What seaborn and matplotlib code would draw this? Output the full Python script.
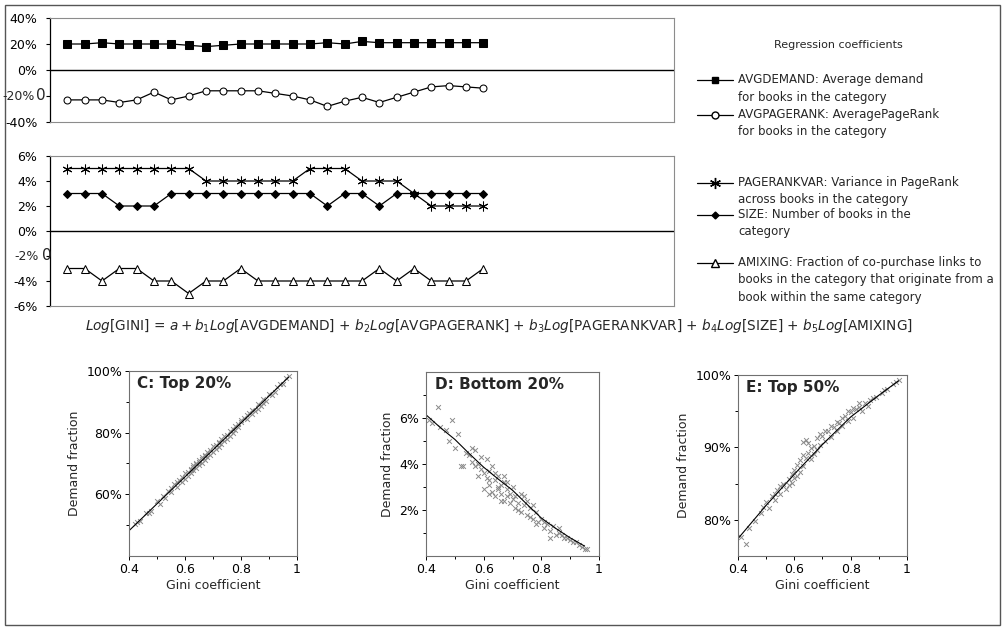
import numpy as np
import seaborn as sns
import matplotlib.pyplot as plt
from matplotlib.lines import Line2D
from matplotlib.patches import Rectangle
from matplotlib.ticker import FuncFormatter

# regression coefficients (%), 25 regressions
idx = list(range(1, 26))
avgdemand = [20, 20, 21, 20, 20, 20, 20, 19, 18, 19, 20, 20, 20, 20, 20, 21, 20, 22, 21, 21, 21, 21, 21, 21, 21]
avgpagerank = [-23, -23, -23, -25, -23, -17, -23, -20, -16, -16, -16, -16, -18, -20, -23, -28, -24, -21, -25, -21,
               -17, -13, -12, -13, -14]
pagerankvar = [5, 5, 5, 5, 5, 5, 5, 5, 4, 4, 4, 4, 4, 4, 5, 5, 5, 4, 4, 4, 3, 2, 2, 2, 2]
size = [3, 3, 3, 2, 2, 2, 3, 3, 3, 3, 3, 3, 3, 3, 3, 2, 3, 3, 2, 3, 3, 3, 3, 3, 3]
amixing = [-3, -3, -4, -3, -3, -4, -4, -5, -4, -4, -3, -4, -4, -4, -4, -4, -4, -4, -3, -4, -3, -4, -4, -4, -3]

# C: top 20% demand fraction vs gini
c_gini = [0.42, 0.44, 0.46, 0.48, 0.50, 0.51, 0.52, 0.53, 0.54, 0.55, 0.56, 0.57, 0.58, 0.59, 0.60, 0.60, 0.61,
          0.62, 0.62, 0.63, 0.63, 0.64, 0.64, 0.65, 0.65, 0.66, 0.66, 0.67, 0.67, 0.68, 0.68, 0.69, 0.70, 0.70,
          0.71, 0.72, 0.72, 0.73, 0.74, 0.74, 0.75, 0.76, 0.76, 0.77, 0.78, 0.78, 0.79, 0.80, 0.81, 0.82, 0.83,
          0.84, 0.85, 0.86, 0.87, 0.88, 0.89, 0.90, 0.92, 0.94, 0.95, 0.96, 0.97,
          0.43, 0.47, 0.55, 0.57, 0.59, 0.61, 0.62, 0.63, 0.64, 0.65, 0.66, 0.67, 0.69, 0.71, 0.72, 0.73,
          0.75, 0.77, 0.79, 0.80, 0.82, 0.84, 0.86, 0.88, 0.91, 0.93]
c_frac = [50.5, 51.2, 53.9, 54.6, 57.8, 57.0, 59.3, 58.9, 61.2, 60.6, 63.5, 62.4, 64.8, 64.0, 66.9, 65.1, 67.4,
          68.3, 66.8, 69.5, 67.9, 70.1, 68.6, 71.2, 69.4, 72.0, 70.3, 72.9, 71.1, 73.6, 72.0, 74.3, 75.6, 73.7,
          76.0, 77.1, 75.5, 77.8, 78.8, 77.2, 79.3, 80.6, 79.0, 81.2, 82.3, 80.8, 82.9, 83.6, 84.8, 84.3, 86.5,
          87.4, 87.0, 89.3, 88.7, 90.9, 90.4, 92.5, 93.1, 95.9, 95.7, 97.6, 98.3,
          51.0, 53.8, 62.1, 63.9, 65.7, 65.8, 67.9, 68.8, 69.7, 70.6, 71.4, 72.3, 72.9, 74.6, 76.7, 76.4,
          78.1, 79.9, 81.7, 84.0, 85.6, 86.0, 87.8, 89.6, 92.2, 94.9]
c_fit_x = [0.40, 0.97]
c_fit_y = [48.2, 98.0]

# D: bottom 20%
d_gini = [0.41, 0.42, 0.44, 0.45, 0.47, 0.48, 0.49, 0.50, 0.51, 0.52, 0.53, 0.54, 0.55, 0.56, 0.56, 0.57, 0.58,
          0.58, 0.59, 0.60, 0.60, 0.61, 0.61, 0.62, 0.62, 0.63, 0.63, 0.64, 0.64, 0.65, 0.65, 0.66, 0.66, 0.67,
          0.67, 0.67, 0.68, 0.68, 0.69, 0.70, 0.70, 0.71, 0.71, 0.72, 0.73, 0.73, 0.74, 0.75, 0.75, 0.76, 0.77,
          0.78, 0.79, 0.80, 0.81, 0.82, 0.83, 0.84, 0.85, 0.86, 0.87, 0.88, 0.90, 0.91, 0.93, 0.94, 0.95,
          0.57, 0.59, 0.62, 0.64, 0.66, 0.68, 0.69, 0.72, 0.74, 0.76, 0.77, 0.78, 0.81, 0.83, 0.86, 0.89,
          0.92, 0.96, 0.62, 0.65]
d_frac = [5.9, 5.8, 6.5, 5.6, 5.5, 5.0, 5.9, 4.7, 5.3, 3.9, 3.9, 4.5, 4.4, 4.7, 4.1, 4.6, 4.0,
          3.5, 3.8, 3.6, 2.9, 4.2, 3.4, 3.7, 3.1, 3.9, 2.8, 3.3, 2.6, 3.5, 2.9, 2.7, 3.1, 3.2,
          2.4, 3.5, 2.6, 2.9, 2.3, 3.0, 2.5, 2.6, 2.1, 2.3, 2.7, 1.9, 2.2, 2.4, 1.8, 2.1, 1.6,
          1.9, 1.5, 1.6, 1.2, 1.4, 1.1, 1.3, 0.9, 1.0, 0.9, 0.8, 0.7, 0.6, 0.5, 0.4, 0.3,
          3.9, 4.3, 2.7, 3.6, 2.4, 3.2, 2.7, 2.0, 2.6, 1.7, 2.2, 1.4, 1.5, 0.8, 1.2, 0.8,
          0.6, 0.3, 3.3, 3.0]
d_fit_x = [0.40, 0.45, 0.50, 0.55, 0.60, 0.65, 0.70, 0.75, 0.80, 0.85, 0.90, 0.95]
d_fit_y = [6.14, 5.58, 5.07, 4.45, 3.86, 3.35, 2.86, 2.25, 1.65, 1.20, 0.79, 0.43]

# E: top 50%
e_gini = [0.41, 0.43, 0.44, 0.46, 0.48, 0.49, 0.50, 0.51, 0.52, 0.53, 0.54, 0.55, 0.56, 0.57, 0.58, 0.59, 0.60,
          0.60, 0.61, 0.62, 0.62, 0.63, 0.63, 0.64, 0.64, 0.65, 0.66, 0.66, 0.67, 0.68, 0.68, 0.69, 0.70, 0.71,
          0.72, 0.73, 0.74, 0.75, 0.76, 0.77, 0.78, 0.79, 0.80, 0.81, 0.82, 0.83, 0.84, 0.85, 0.86, 0.87, 0.89,
          0.91, 0.93, 0.95, 0.96, 0.97,
          0.58, 0.59, 0.61, 0.63, 0.65, 0.67, 0.69, 0.71, 0.73, 0.75, 0.77, 0.79, 0.81, 0.83, 0.88, 0.92,
          0.55, 0.53]
e_frac = [77.6, 76.6, 78.9, 79.8, 80.9, 81.8, 82.4, 81.6, 83.3, 82.7, 84.1, 83.6, 84.9, 84.2, 85.7, 85.1, 86.9,
          85.8, 87.6, 86.6, 88.2, 90.8, 87.4, 88.6, 91.0, 89.2, 88.4, 89.9, 90.2, 89.6, 91.3, 90.4, 91.6, 90.9,
          92.2, 91.5, 92.8, 92.2, 93.4, 92.9, 94.3, 93.6, 94.9, 94.1, 95.3, 95.6, 95.0, 96.1, 95.7, 96.6, 97.0,
          97.5, 98.1, 98.7, 99.0, 99.3,
          84.8, 86.3, 86.0, 88.9, 90.6, 89.1, 91.8, 92.3, 92.9, 93.5, 94.0, 95.0, 95.5, 96.2, 96.8, 97.9,
          84.6, 83.5]
e_fit_x = [0.40, 0.50, 0.60, 0.70, 0.80, 0.90, 0.97]
e_fit_y = [77.4, 82.0, 86.3, 90.4, 94.2, 97.2, 99.2]

sns.set_theme(style="white")
plt.rcParams['font.family'] = ['DejaVu Sans']
plt.rcParams['mathtext.fontset'] = 'dejavusans'

W, H = 1003, 629
fig = plt.figure(figsize=(W / 100, H / 100), dpi=100)


def box(x0, y0, x1, y1):
    # pixel box -> figure fraction rect
    return [x0 / W, 1 - y1 / H, (x1 - x0) / W, (y1 - y0) / H]


def style_coef(ax, lim, step, skip):
    ax.set_xlim(0, 36)
    ax.set_ylim(-lim, lim)
    ticks = np.arange(-lim, lim + step / 2, step)
    ax.set_yticks(ticks)
    # the tick next to the stray "0" is written by hand further below
    ax.yaxis.set_major_formatter(FuncFormatter(lambda v, p: "" if abs(v - skip) < 1e-9 else f"{v:.0f}%"))
    ax.set_xticks([])
    ax.set_xlabel("")
    ax.set_ylabel("")
    for s in ["top", "right", "bottom"]:
        ax.spines[s].set_color("#8c8c8c")
        ax.spines[s].set_linewidth(0.8)
    ax.spines["left"].set_color("black")
    ax.spines["left"].set_linewidth(0.9)
    ax.axhline(0, color="black", lw=1)
    ax.tick_params(axis="y", left=True, length=3, width=0.8, labelsize=9, pad=6, colors="black")


line_kw = dict(color="black", lw=0.9, markeredgecolor="black")

ax1 = fig.add_axes(box(50, 18, 674, 122))
sns.lineplot(x=idx, y=avgdemand, ax=ax1, marker="s", markersize=6, markerfacecolor="black", **line_kw)
sns.lineplot(x=idx, y=avgpagerank, ax=ax1, marker="o", markersize=5, markerfacecolor="white", **line_kw)
style_coef(ax1, 40, 20, -20)

ax2 = fig.add_axes(box(50, 156, 674, 306))
sns.lineplot(x=idx, y=pagerankvar, ax=ax2, marker=(6, 2, 0), markersize=7, **line_kw)
sns.lineplot(x=idx, y=size, ax=ax2, marker="D", markersize=4.5, markerfacecolor="black", **line_kw)
sns.lineplot(x=idx, y=amixing, ax=ax2, marker="^", markersize=6, markerfacecolor="white", **line_kw)
style_coef(ax2, 6, 2, -2)

# shifted tick labels with the stray "0" beside them
fig.text(35 / W, 1 - 96 / H, "-20%", fontsize=9, ha="right", va="center")
fig.text(41 / W, 1 - 96 / H, "0", fontsize=11, ha="center", va="center")
fig.text(39 / W, 1 - 256 / H, "-2%", fontsize=9, ha="right", va="center")
fig.text(47 / W, 1 - 256 / H, "0", fontsize=11, ha="center", va="center")

# legend on the right
fig.text(838 / W, 1 - 45 / H, "Regression coefficients", fontsize=8, ha="center", va="center")
legend_rows = [
    (80, dict(marker="s", markersize=4, markerfacecolor="black"),
     "AVGDEMAND: Average demand\nfor books in the category"),
    (115, dict(marker="o", markersize=5, markerfacecolor="white"),
     "AVGPAGERANK: AveragePageRank\nfor books in the category"),
    (183, dict(marker=(6, 2, 0), markersize=8),
     "PAGERANKVAR: Variance in PageRank\nacross books in the category"),
    (215, dict(marker="D", markersize=3.5, markerfacecolor="black"),
     "SIZE: Number of books in the\ncategory"),
    (263, dict(marker="^", markersize=6, markerfacecolor="white"),
     "AMIXING: Fraction of co-purchase links to\nbooks in the category that originate from a\n"
     "book within the same category"),
]
for y, mk, label in legend_rows:
    yy = 1 - y / H
    fig.add_artist(Line2D([697 / W, 715 / W, 733 / W], [yy, yy, yy], transform=fig.transFigure,
                          markevery=[1], color="black", lw=0.9, markeredgecolor="black", **mk))
    fig.text(738 / W, yy + 7 / H, label, fontsize=8.5, ha="left", va="top", linespacing=1.45)

# regression equation
eq = (r"$\mathit{Log}$[GINI] = $a + b_1\mathit{Log}$[AVGDEMAND] + $b_2\mathit{Log}$[AVGPAGERANK] + "
      r"$b_3\mathit{Log}$[PAGERANKVAR] + $b_4\mathit{Log}$[SIZE] + $b_5\mathit{Log}$[AMIXING]")
fig.text(499 / W, 1 - 326 / H, eq, fontsize=9.8, ha="center", va="center")


def style_scatter(ax, ylim, major, minor, title):
    ax.set_xlim(0.4, 1.0)
    ax.set_ylim(*ylim)
    ax.set_xticks([0.4, 0.6, 0.8, 1.0])
    ax.set_xticklabels(["0.4", "0.6", "0.8", "1"])
    ax.set_xticks([0.5, 0.7, 0.9], minor=True)
    ax.set_yticks(major)
    ax.set_yticklabels([f"{v:g}%" for v in major])
    ax.set_yticks(minor, minor=True)
    for s in ax.spines.values():
        s.set_color("#707070")
        s.set_linewidth(0.8)
    ax.tick_params(which="both", left=True, bottom=True, direction="out", colors="black",
                   labelsize=9, pad=2, width=0.7)
    ax.tick_params(which="major", length=3)
    ax.tick_params(which="minor", length=2)
    ax.set_xlabel("Gini coefficient", fontsize=9, labelpad=2)
    ax.set_ylabel("Demand fraction", fontsize=9, labelpad=4)
    ax.text(0.05, 0.975, title, transform=ax.transAxes, fontsize=11, fontweight="bold", va="top")


sc_kw = dict(marker="x", s=12, color="#8a8a8a", linewidth=0.7)

axc = fig.add_axes(box(129, 371, 297, 556))
sns.scatterplot(x=c_gini, y=c_frac, ax=axc, **sc_kw)
sns.lineplot(x=c_fit_x, y=c_fit_y, ax=axc, color="black", lw=0.8)
style_scatter(axc, (40, 100), [60, 80, 100], [50, 70, 90], "C: Top 20%")

axd = fig.add_axes(box(426, 372, 599, 556))
sns.scatterplot(x=d_gini, y=d_frac, ax=axd, **sc_kw)
sns.lineplot(x=d_fit_x, y=d_fit_y, ax=axd, color="black", lw=0.8)
style_scatter(axd, (0, 8), [2, 4, 6], [1, 3, 5, 7], "D: Bottom 20%")

axe = fig.add_axes(box(738, 375, 907, 556))
sns.scatterplot(x=e_gini, y=e_frac, ax=axe, **sc_kw)
sns.lineplot(x=e_fit_x, y=e_fit_y, ax=axe, color="black", lw=0.8)
style_scatter(axe, (75, 100), [80, 90, 100], [85, 95], "E: Top 50%")

# outer frame
fig.add_artist(Rectangle((5 / W, 4 / H), 995 / W, 620 / H, transform=fig.transFigure,
                         fill=False, edgecolor="#555555", lw=1))

fig.savefig("out.png", dpi=100)
